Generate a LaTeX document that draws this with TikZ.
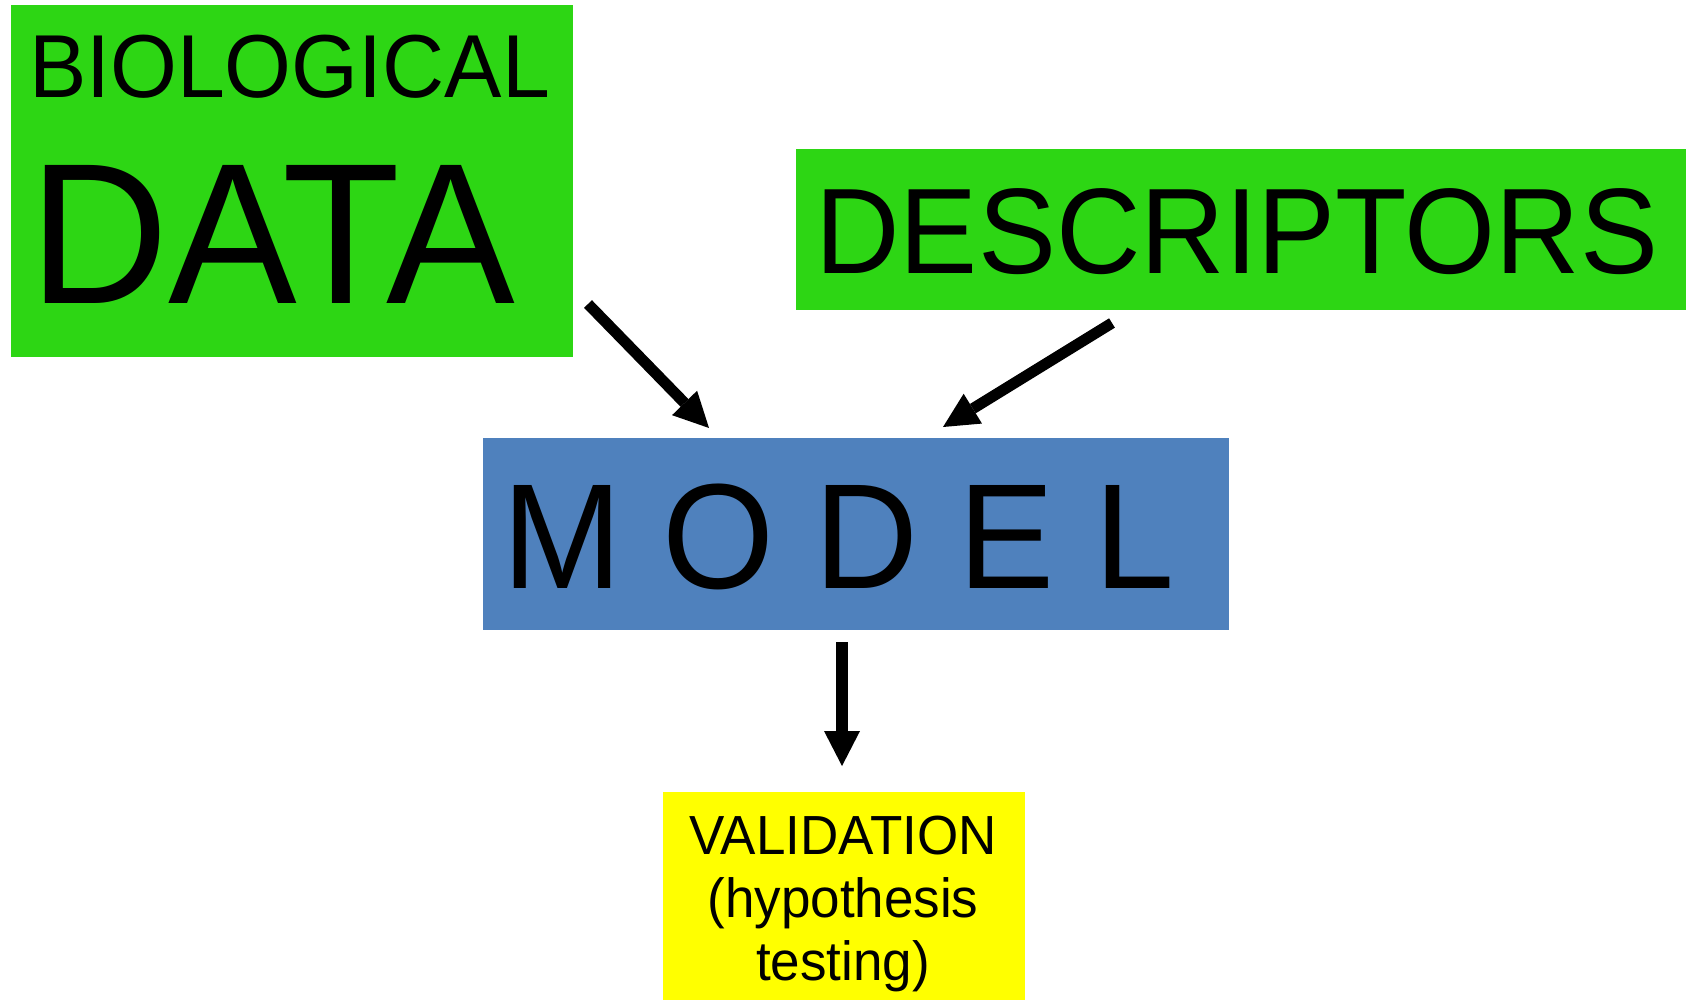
\documentclass[tikz,border=0pt]{standalone}
\usepackage{fontspec}
\setmainfont{Liberation Sans}
\usetikzlibrary{arrows.meta}
\definecolor{boxgreen}{RGB}{45,214,20}
\definecolor{boxblue}{RGB}{79,129,189}
\definecolor{boxyellow}{RGB}{255,255,0}
% slightly taller letter shapes
\newcommand{\tallcaps}[1]{\scalebox{1}[1.04]{#1}}
\begin{document}
\begin{tikzpicture}[x=1pt,y=-1pt,
  panel/.style={draw=none, inner sep=0pt, outer sep=0pt},
  label/.style={inner sep=0pt, outer sep=0pt, anchor=base west, text=black},
  vline/.style={inner sep=0pt, outer sep=0pt, anchor=base, text=black,
    font=\fontsize{53}{63}\selectfont},
  conn/.style={line width=11pt, draw=black,
    -{Triangle[length=35pt,width=35pt,line width=0pt]}},
  connv/.style={line width=12pt, draw=black,
    -{Triangle[length=35pt,width=36pt,line width=0pt]}}]

% page frame
\useasboundingbox (0,0) rectangle (1686,1000);

% coloured panels
\node[panel, fill=boxgreen,  minimum width=562pt, minimum height=352pt] (bio)   at (292,181)   {};
\node[panel, fill=boxgreen,  minimum width=890pt, minimum height=161pt] (desc)  at (1241,229.5) {};
\node[panel, fill=boxblue,   minimum width=746pt, minimum height=192pt] (model) at (856,534)   {};
\node[panel, fill=boxyellow, minimum width=362pt, minimum height=208pt] (valid) at (844,896)   {};

% panel texts
\node[label] (biotxt)  at (29,98)   {\fontsize{86}{86}\selectfont\tallcaps{BIOLOGICAL}};
\node[label] (datatxt) at (29,304)  {\fontsize{193}{193}\selectfont\tallcaps{DATA}};
\node[label] (desctxt) at (815.5,273) {\fontsize{117}{117}\selectfont\tallcaps{DESCRIPTORS}};
\node[label] (modeltxt) at (502.5,588) {\fontsize{144}{144}\selectfont\tallcaps{M O D E L}};
\node[vline] (valida) at (843,854)   {\tallcaps{VALIDATION}};
\node[vline] (validb) at (843,917.5) {\tallcaps{(hypothesis}};
\node[vline] (validc) at (843,980)   {\tallcaps{testing)}};

% connector ends
\coordinate (a1s) at (588,304);
\coordinate (a1e) at (709,428);
\coordinate (a2s) at (1112,323);
\coordinate (a2e) at (943,427);
\coordinate (a3s) at (842,642);
\coordinate (a3e) at (842,766);

% connectors
\draw[conn]  (a1s) -- (a1e);
\draw[conn]  (a2s) -- (a2e);
\draw[connv] (a3s) -- (a3e);
\end{tikzpicture}
\end{document}
